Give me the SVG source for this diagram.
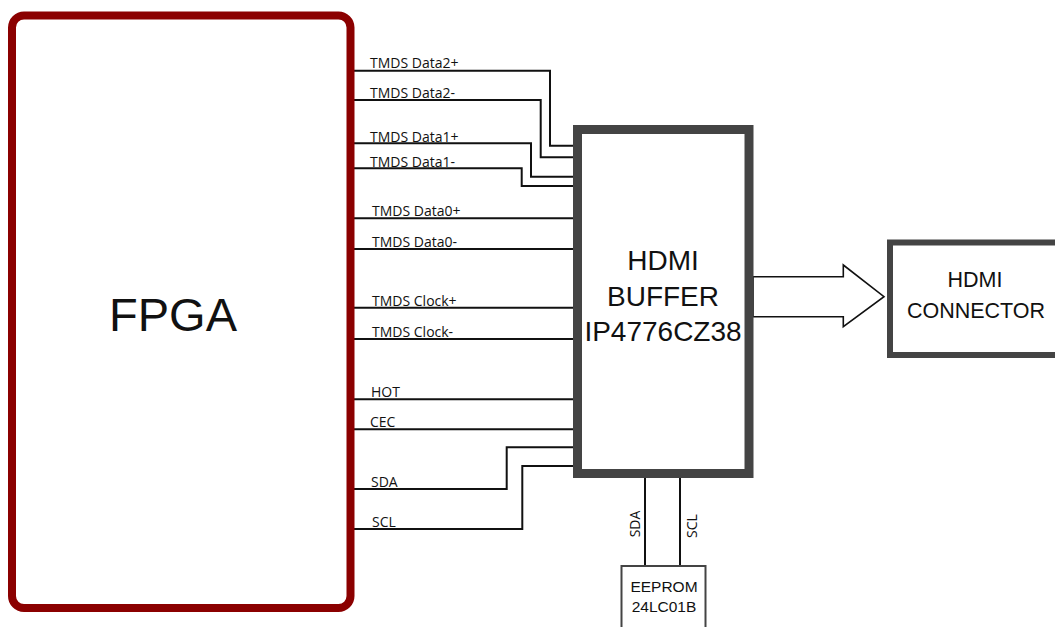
<svg xmlns="http://www.w3.org/2000/svg" width="1055" height="627" viewBox="0 0 1055 627">
<style>
.sig{fill:none;stroke:#111;stroke-width:2}
.lbl{font-family:"Open Sans","Liberation Sans",sans-serif;font-size:14px;fill:#111}
.box{font-family:"Liberation Sans",Arial,sans-serif;fill:#111;text-anchor:middle}
</style>
<rect width="1055" height="627" fill="#fff"/>
<g id="connectors">
<path class="sig" d="M354,70.7 H550 V145.7 H574"/>
<path class="sig" d="M354,100 H540.7 V157.3 H574"/>
<path class="sig" d="M354,143.3 H531 V176.7 H574"/>
<path class="sig" d="M354,168.3 H521.7 V186 H574"/>
<path class="sig" d="M354,218.3 H574"/>
<path class="sig" d="M354,249 H574"/>
<path class="sig" d="M354,307.7 H574"/>
<path class="sig" d="M354,339 H574"/>
<path class="sig" d="M354,399.3 H574"/>
<path class="sig" d="M354,429.3 H574"/>
<path class="sig" d="M354,489 H506.7 V447.3 H574"/>
<path class="sig" d="M354,529 H522.3 V466 H574"/>
<path class="sig" d="M645,478 V566"/>
<path class="sig" d="M680,478 V566"/>
<polygon points="753,276.7 843.3,276.7 843.3,265 884,296.7 843.3,326.7 843.3,316.7 753,316.7" fill="#fff" stroke="#111" stroke-width="1.6"/>
<text class="lbl" x="370" y="68">TMDS Data2+</text>
<text class="lbl" x="370" y="98">TMDS Data2-</text>
<text class="lbl" x="370" y="141.5">TMDS Data1+</text>
<text class="lbl" x="370" y="166.5">TMDS Data1-</text>
<text class="lbl" x="372" y="216">TMDS Data0+</text>
<text class="lbl" x="372" y="247">TMDS Data0-</text>
<text class="lbl" x="372" y="305.5">TMDS Clock+</text>
<text class="lbl" x="372" y="337">TMDS Clock-</text>
<text class="lbl" x="371" y="397">HOT</text>
<text class="lbl" x="370" y="427">CEC</text>
<text class="lbl" x="371" y="487">SDA</text>
<text class="lbl" x="372" y="527">SCL</text>
<text class="lbl" transform="translate(640,524) rotate(-90)" text-anchor="middle">SDA</text>
<text class="lbl" transform="translate(696.5,526) rotate(-90)" text-anchor="middle">SCL</text>
</g>
<g id="fpga">
<rect x="12" y="15.5" width="338.5" height="592.5" rx="12" fill="none" stroke="#8b0000" stroke-width="8"/>
<text class="box" x="173" y="331" font-size="47">FPGA</text>
</g>
<g id="buffer">
<rect x="577.5" y="129.5" width="171.5" height="344" fill="#fff" stroke="#444" stroke-width="9"/>
<text class="box" x="663" y="270" font-size="28">HDMI</text>
<text class="box" x="663" y="306" font-size="28">BUFFER</text>
<text class="box" x="663" y="341" font-size="28">IP4776CZ38</text>
</g>
<g id="connector">
<rect x="890" y="242.5" width="200" height="112.5" fill="#fff" stroke="#444" stroke-width="6"/>
<text class="box" x="975" y="286.5" font-size="21.5">HDMI</text>
<text class="box" x="976" y="317.5" font-size="21.5">CONNECTOR</text>
</g>
<g id="eeprom">
<rect x="621.5" y="566" width="84" height="80" fill="#fff" stroke="#444" stroke-width="2"/>
<text class="box" x="664" y="591.5" font-size="15.5">EEPROM</text>
<text class="box" x="664" y="611.5" font-size="15.5">24LC01B</text>
</g>
</svg>
